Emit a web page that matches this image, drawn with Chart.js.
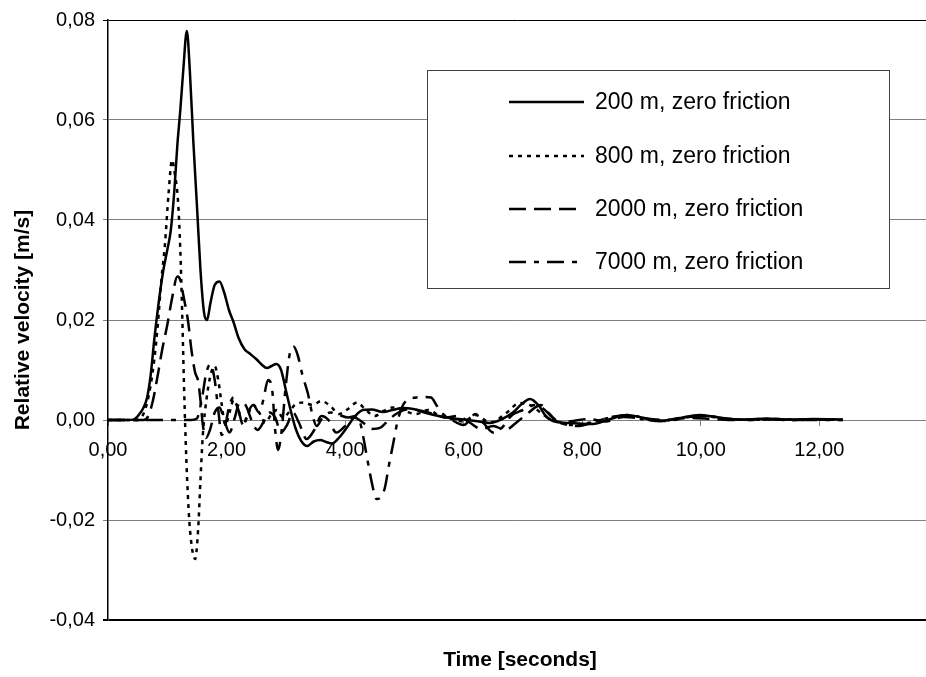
<!DOCTYPE html>
<html>
<head>
<meta charset="utf-8">
<script src="https://cdn.jsdelivr.net/npm/chart.js@4.4.1/dist/chart.umd.min.js"></script>
<style>
  html, body { margin: 0; padding: 0; background: #ffffff; }
  #wrap { width: 926px; height: 677px; position: relative; }
</style>
</head>
<body>
<div id="wrap"><canvas id="velocityChart"></canvas></div>
<script>
// ====== DATA ======
const seriesLabels = ['200 m, zero friction', '800 m, zero friction', '2000 m, zero friction', '7000 m, zero friction'];

const time200 = [0, 0.35, 0.45, 0.53, 0.6, 0.66, 0.72, 0.78, 0.85, 0.93, 1.0, 1.06, 1.12, 1.17, 1.22, 1.27, 1.33, 1.38, 1.44, 1.5, 1.56, 1.62, 1.67, 1.73, 1.8, 1.88, 1.96, 2.04, 2.12, 2.2, 2.3, 2.4, 2.5, 2.6, 2.68, 2.76, 2.84, 2.92, 3.0, 3.08, 3.16, 3.26, 3.36, 3.47, 3.58, 3.68, 3.78, 3.9, 4.03, 4.15, 4.3, 4.45, 4.64, 4.8, 4.97, 5.15, 5.31, 5.5, 5.77, 6.0, 6.2, 6.44, 6.65, 6.83, 6.98, 7.12, 7.26, 7.4, 7.57, 7.8, 8.18, 8.45, 8.75, 9.0, 9.26, 9.6, 9.98, 10.25, 10.5, 10.8, 11.1, 11.5, 11.9, 12.4];
const vel200 = [0, 0, 0.0002, 0.0012, 0.0025, 0.0045, 0.009, 0.016, 0.023, 0.0297, 0.034, 0.038, 0.046, 0.055, 0.062, 0.070, 0.0778, 0.070, 0.0556, 0.043, 0.030, 0.0215, 0.020, 0.0235, 0.027, 0.0277, 0.0255, 0.022, 0.0195, 0.0165, 0.0142, 0.0132, 0.0122, 0.0110, 0.0104, 0.0108, 0.0112, 0.0100, 0.0060, 0.0020, -0.0015, -0.0042, -0.0052, -0.0043, -0.0040, -0.0044, -0.0047, -0.0035, -0.0015, 0.0005, 0.0020, 0.0021, 0.0016, 0.0020, 0.0024, 0.0022, 0.0016, 0.0010, 0.0004, 0.0001, -0.0002, -0.0006, 0.0002, 0.0015, 0.0032, 0.0042, 0.0030, 0.0006, -0.0004, -0.0006, -0.0008, 0.0001, 0.0010, 0.0005, -0.0002, 0.0003, 0.0010, 0.0006, 0.0002, 0.0001, 0.0003, 0.0001, 0.0002, 0.0001];

const time800 = [0, 0.5, 0.58, 0.65, 0.72, 0.78, 0.84, 0.9, 0.96, 1.02, 1.08, 1.13, 1.18, 1.22, 1.25, 1.28, 1.31, 1.36, 1.41, 1.47, 1.52, 1.56, 1.6, 1.66, 1.73, 1.8, 1.86, 1.92, 1.98, 2.05, 2.12, 2.2, 2.28, 2.36, 2.45, 2.55, 2.65, 2.75, 2.85, 2.95, 3.05, 3.15, 3.3, 3.45, 3.6, 3.75, 3.9, 4.05, 4.2, 4.35, 4.5, 4.65, 4.8, 5.0, 5.2, 5.4, 5.6, 5.8, 6.0, 6.2, 6.45, 6.7, 6.95, 7.15, 7.35, 7.55, 7.8, 8.1, 8.4, 8.7, 9.0, 9.3, 9.7, 10.0, 10.4, 10.8, 11.2, 11.6, 12.0, 12.4];
const vel800 = [0, 0, 0.0008, 0.003, 0.007, 0.012, 0.019, 0.028, 0.035, 0.045, 0.052, 0.049, 0.044, 0.034, 0.022, 0.008, -0.004, -0.018, -0.025, -0.0278, -0.022, -0.012, -0.003, 0.004, 0.009, 0.0108, 0.008, 0.003, -0.001, 0.0015, 0.004, 0.002, -0.001, 0.001, 0.003, 0.0015, -0.0005, 0.001, 0.002, 0.0005, 0.0015, 0.003, 0.0035, 0.003, 0.0038, 0.0028, 0.0012, 0.0022, 0.0035, 0.002, 0.0008, 0.0018, 0.0025, 0.0018, 0.0012, 0.0020, 0.0008, 0.0002, -0.0003, 0.0010, -0.0005, 0.0012, 0.0034, 0.0028, 0.0010, -0.0002, -0.0010, -0.0006, 0.0003, 0.0008, 0.0002, -0.0002, 0.0005, 0.0008, 0.0003, 0, 0.0002, 0, 0.0001, 0];

const time2000 = [0, 0.6, 0.68, 0.76, 0.84, 0.91, 1.0, 1.08, 1.17, 1.22, 1.27, 1.35, 1.41, 1.47, 1.52, 1.56, 1.6, 1.65, 1.72, 1.8, 1.88, 1.96, 2.05, 2.14, 2.22, 2.32, 2.42, 2.52, 2.62, 2.72, 2.82, 2.92, 3.02, 3.12, 3.22, 3.35, 3.48, 3.6, 3.72, 3.85, 4.0, 4.15, 4.3, 4.45, 4.6, 4.75, 4.9, 5.1, 5.3, 5.5, 5.7, 5.9, 6.1, 6.3, 6.5, 6.7, 6.9, 7.1, 7.3, 7.45, 7.6, 7.85, 8.1, 8.4, 8.7, 9.0, 9.4, 9.8, 10.2, 10.6, 11.0, 11.5, 12.0, 12.4];
const vel2000 = [0, 0, 0.0008, 0.004, 0.009, 0.0138, 0.019, 0.0243, 0.0287, 0.028, 0.025, 0.0198, 0.0138, 0.0095, 0.0078, 0.004, -0.001, -0.0036, -0.002, 0.0015, 0.0025, 0.000, -0.0025, 0.0005, 0.0035, 0.003, 0.000, -0.0020, -0.0005, 0.0015, 0.0005, -0.0025, -0.0010, 0.0015, -0.0005, -0.0038, -0.0020, 0.0008, 0.0000, -0.0025, -0.0012, 0.0005, -0.0005, -0.0018, -0.0015, 0.0002, 0.0015, 0.0022, 0.0018, 0.0012, 0.0005, 0.0008, -0.0005, -0.0018, -0.0012, -0.0020, -0.0004, 0.0015, 0.0030, 0.0012, -0.0004, -0.0002, 0.0002, -0.0003, 0.0006, 0.0004, 0.0000, 0.0004, 0.0002, 0.0000, 0.0002, 0.0000, 0.0001, 0];

const time7000 = [0, 1.4, 1.5, 1.58, 1.66, 1.73, 1.8, 1.86, 1.92, 1.98, 2.05, 2.12, 2.2, 2.28, 2.36, 2.45, 2.55, 2.62, 2.7, 2.77, 2.82, 2.87, 2.93, 3.0, 3.07, 3.13, 3.2, 3.28, 3.37, 3.45, 3.52, 3.62, 3.75, 3.9, 4.05, 4.18, 4.26, 4.35, 4.45, 4.53, 4.6, 4.67, 4.74, 4.81, 4.89, 4.97, 5.05, 5.2, 5.35, 5.45, 5.55, 5.65, 5.8, 6.0, 6.2, 6.35, 6.5, 6.65, 6.8, 7.0, 7.2, 7.35, 7.5, 7.7, 7.95, 8.2, 8.5, 8.8, 9.1, 9.4, 9.8, 10.1, 10.5, 10.9, 11.3, 11.8, 12.4];
const vel7000 = [0, 0, 0.0003, 0.004, 0.0095, 0.0112, 0.008, 0.002, -0.003, -0.001, 0.003, 0.0045, 0.002, -0.001, 0.0015, 0.003, 0.0015, 0.004, 0.008, 0.006, -0.002, -0.006, -0.002, 0.007, 0.0135, 0.0147, 0.013, 0.009, 0.0054, 0.0010, -0.0012, 0.0005, 0.0015, 0.0010, 0.0005, 0.0008, -0.0008, -0.0062, -0.0125, -0.0158, -0.0155, -0.0136, -0.0090, -0.0048, 0.0000, 0.0028, 0.0040, 0.0045, 0.0046, 0.0045, 0.0028, 0.0012, 0.0000, -0.0010, 0.0012, -0.0008, -0.0025, -0.0015, 0.0008, 0.0020, 0.0030, 0.0022, 0.0005, -0.0008, -0.0012, -0.0004, 0.0006, 0.0010, 0.0002, -0.0002, 0.0006, 0.0008, 0.0002, 0, 0.0002, 0, 0];

const xTickValues = [0, 2, 4, 6, 8, 10, 12];

const FONT = "'Liberation Sans', Arial, sans-serif";

function toPoints(times, values) {
  return times.map((t, i) => ({ x: t, y: values[i] }));
}

function comma(v) {
  return (Math.abs(v) < 1e-9 ? 0 : v).toFixed(2).replace('.', ',');
}

// ====== LEGEND BOX + X TITLE (drawn on the canvas) ======
const boxLegend = {
  id: 'boxLegend',
  afterDraw(chart) {
    const ctx = chart.ctx;
    ctx.save();
    ctx.fillStyle = '#ffffff';
    ctx.fillRect(427, 70, 462, 218);
    ctx.strokeStyle = '#404040';
    ctx.lineWidth = 1;
    ctx.strokeRect(427.5, 70.5, 462, 218);

    const rows = [102, 156, 209, 262];
    chart.data.datasets.forEach((ds, i) => {
      const y = rows[i];
      ctx.strokeStyle = '#000000';
      ctx.lineWidth = ds.borderWidth;
      ctx.setLineDash(ds.borderDash || []);
      ctx.beginPath();
      ctx.moveTo(509, y);
      ctx.lineTo(584, y);
      ctx.stroke();
      ctx.setLineDash([]);
      ctx.fillStyle = '#000000';
      ctx.font = '23px ' + FONT;
      ctx.textAlign = 'left';
      ctx.textBaseline = 'middle';
      ctx.fillText(ds.label, 595, y + 1);
    });

    ctx.font = 'bold 21px ' + FONT;
    ctx.textAlign = 'center';
    ctx.textBaseline = 'middle';
    ctx.fillText('Time [seconds]', 520, 660);
    ctx.restore();
  }
};

// ====== CHART ======
const ctx = document.getElementById('velocityChart');

new Chart(ctx, {
  type: 'line',
  data: {
    datasets: [
      { label: seriesLabels[0], data: toPoints(time200, vel200), borderWidth: 2.5, borderDash: [] },
      { label: seriesLabels[1], data: toPoints(time800, vel800), borderWidth: 2.5, borderDash: [4, 5] },
      { label: seriesLabels[2], data: toPoints(time2000, vel2000), borderWidth: 2.5, borderDash: [17, 8] },
      { label: seriesLabels[3], data: toPoints(time7000, vel7000), borderWidth: 2.5, borderDash: [17, 8, 5, 8] }
    ].map(ds => Object.assign(ds, {
      borderColor: '#000000',
      backgroundColor: '#000000',
      pointRadius: 0,
      fill: false,
      cubicInterpolationMode: 'monotone'
    }))
  },
  options: {
    responsive: true,
    maintainAspectRatio: false,
    animation: false,
    layout: { padding: { left: 0, top: 17, right: 0, bottom: 57 } },
    plugins: {
      legend: { display: false },
      tooltip: { enabled: false }
    },
    scales: {
      x: {
        type: 'linear',
        position: { y: 0 },
        min: 0,
        max: 13.8,
        afterBuildTicks: scale => { scale.ticks = xTickValues.map(v => ({ value: v })); },
        ticks: {
          color: '#000000',
          font: { family: FONT, size: 20 },
          padding: 13,
          maxRotation: 0,
          callback: v => comma(v)
        },
        grid: { drawOnChartArea: false, color: '#808080', tickLength: 5 },
        border: { color: '#808080', width: 1 }
      },
      y: {
        min: -0.04,
        max: 0.08,
        afterFit: scale => { scale.width = 108; },
        ticks: {
          stepSize: 0.02,
          color: '#000000',
          font: { family: FONT, size: 20 },
          padding: 8,
          callback: v => comma(v)
        },
        grid: {
          tickLength: 5,
          color: c => (c.tick && (c.tick.value <= -0.0399 || c.tick.value >= 0.0799)) ? '#000000' : '#808080',
          lineWidth: c => (c.tick && c.tick.value <= -0.0399) ? 2 : 1
        },
        border: { color: '#000000', width: 1.5 },
        title: {
          display: true,
          text: 'Relative velocity [m/s]',
          color: '#000000',
          font: { family: FONT, size: 21, weight: 'bold' },
          padding: { top: 11, bottom: 0 }
        }
      }
    }
  },
  plugins: [boxLegend]
});
</script>
</body>
</html>
